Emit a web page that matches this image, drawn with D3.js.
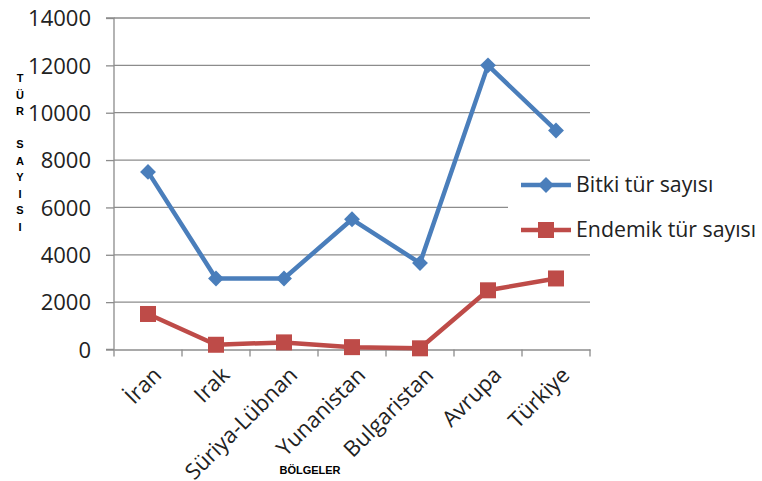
<!DOCTYPE html>
<html><head><meta charset="utf-8">
<script src="https://cdn.jsdelivr.net/npm/d3@7"></script>
<style>body{margin:0;background:#fff}svg{display:block}</style>
</head><body>
<svg id="c" width="762" height="481"></svg>
<script>
const categories = ["İran","Irak","Süriya-Lübnan","Yunanistan","Bulgaristan","Avrupa","Türkiye"];
const bitki = [7500,3000,3000,5500,3650,12000,9250];
const endemik = [1500,200,300,100,50,2500,3000];
const yTicks = [0,2000,4000,6000,8000,10000,12000,14000];
const seriesNames = ["Bitki tür sayısı","Endemik tür sayısı"];
const yTitle = ["T","Ü","R","","S","A","Y","I","S","I"];
const xTitle = "BÖLGELER";

const blue = "#4A7EBB", red = "#BE4B48", gray = "#8c8c8c";
const font = "'Open Sans', 'Liberation Sans', sans-serif";
const svg = d3.select("#c");
const L = 114, R = 590, T = 18, B = 349.5;
const x = d3.scaleBand().domain(categories).range([L, R]);
const y = d3.scaleLinear().domain([0, 14000]).range([B, T]);

// gridlines
svg.append("g").selectAll("line").data(yTicks.filter(d => d > 0)).join("line")
  .attr("x1", L).attr("x2", R).attr("y1", d => y(d)).attr("y2", d => y(d))
  .attr("stroke", gray).attr("stroke-width", 1.3);

// y axis
const ya = svg.append("g").attr("transform", `translate(${L},0)`)
  .call(d3.axisLeft(y).tickValues(yTicks).tickFormat(d3.format("d")).tickSize(8).tickPadding(15));
ya.select(".domain").attr("stroke", gray).attr("stroke-width", 1.3).attr("d", `M-8,${B}H0V${T}H-8`);
ya.selectAll(".tick line").attr("stroke", gray).attr("stroke-width", 1.3);
ya.selectAll(".tick text").attr("font-family", font).attr("font-size", 22).attr("fill", "#222").attr("dy", "0.35em");

// x axis
const xa = svg.append("g").attr("transform", `translate(0,${B})`)
  .call(d3.axisBottom(x).tickSize(0).tickFormat(""));
xa.select(".domain").attr("stroke", gray).attr("stroke-width", 1.3);
xa.selectAll(".tick").remove();
const bounds = categories.map(c => x(c)).concat([R]);
svg.append("g").selectAll("line").data(bounds).join("line")
  .attr("x1", d => d).attr("x2", d => d).attr("y1", B).attr("y2", B + 7)
  .attr("stroke", gray).attr("stroke-width", 1.3);

// x labels
svg.append("g").selectAll("text").data(categories).join("text")
  .attr("transform", d => `translate(${x(d) + x.bandwidth()/2 + 4},${B + 16}) rotate(-45)`)
  .attr("text-anchor", "end").attr("dy", "0.7em")
  .attr("font-family", font).attr("font-size", 22).attr("fill", "#222")
  .text(d => d);

// legend background (covers gridline)
svg.append("rect").attr("x", 508).attr("y", 166).attr("width", 254).attr("height", 82).attr("fill", "#fff");

const line = d3.line().x((d, i) => x(categories[i]) + x.bandwidth()/2).y(d => y(d));
svg.append("path").datum(bitki).attr("d", line).attr("fill", "none")
  .attr("stroke", blue).attr("stroke-width", 4.5).attr("stroke-linejoin", "round");
svg.append("path").datum(endemik).attr("d", line).attr("fill", "none")
  .attr("stroke", red).attr("stroke-width", 4.5).attr("stroke-linejoin", "round");

const diamond = d3.symbol().type(d3.symbolDiamond2).size(160);
svg.append("g").selectAll("path").data(bitki).join("path")
  .attr("transform", (d, i) => `translate(${x(categories[i]) + x.bandwidth()/2},${y(d)})`)
  .attr("d", diamond).attr("fill", blue);
svg.append("g").selectAll("rect").data(endemik).join("rect")
  .attr("x", (d, i) => x(categories[i]) + x.bandwidth()/2 - 8)
  .attr("y", d => y(d) - 8).attr("width", 16).attr("height", 16).attr("fill", red);

// legend
const lg = [{n: seriesNames[0], c: blue, t: "d", y: 185}, {n: seriesNames[1], c: red, t: "s", y: 230}];
lg.forEach(e => {
  svg.append("line").attr("x1", 521).attr("x2", 571).attr("y1", e.y).attr("y2", e.y)
    .attr("stroke", e.c).attr("stroke-width", 4.5);
  if (e.t === "d") svg.append("path").attr("transform", `translate(546,${e.y})`).attr("d", diamond).attr("fill", e.c);
  else svg.append("rect").attr("x", 538).attr("y", e.y - 8).attr("width", 16).attr("height", 16).attr("fill", e.c);
  svg.append("text").attr("x", 576).attr("y", e.y).attr("dy", "0.35em")
    .attr("font-family", font).attr("font-size", 21.3).attr("fill", "#222").text(e.n);
});

// y title
svg.append("text").attr("font-family", "'Liberation Sans', Arial, sans-serif").attr("font-weight", "bold")
  .attr("font-size", 11).attr("text-anchor", "middle").attr("fill", "#000")
  .selectAll("tspan").data(yTitle).join("tspan")
  .attr("x", 20).attr("y", (d, i) => 82 + i * 16.5).text(d => d);

// x title
svg.append("text").attr("x", 310).attr("y", 474).attr("text-anchor", "middle")
  .attr("font-family", "'Liberation Sans', Arial, sans-serif").attr("font-weight", "bold")
  .attr("font-size", 11).attr("fill", "#000").text(xTitle);
</script>
</body></html>
